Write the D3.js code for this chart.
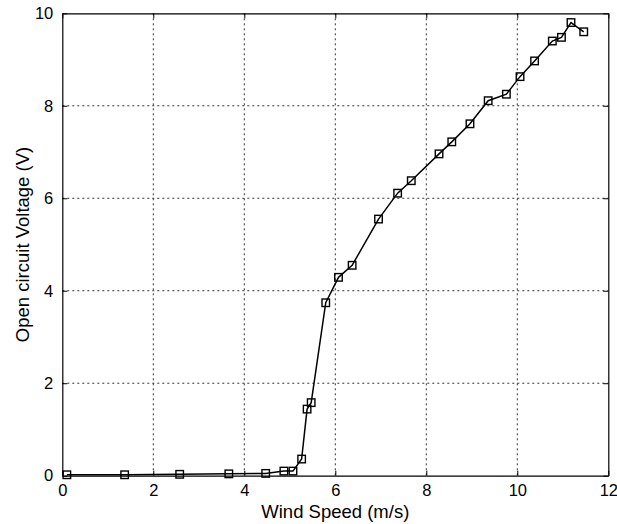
<!DOCTYPE html>
<html>
<head>
<meta charset="utf-8">
<script src="https://cdn.jsdelivr.net/npm/d3@7"></script>
<style>
  body { margin: 0; background: #fff; }
  svg { display: block; font-family: "Liberation Sans", Arial, sans-serif; }
</style>
</head>
<body>
<svg id="plotarea"></svg>
<script>
// wind speed (m/s) and open circuit voltage (V)
var windSpeed = [0.1, 1.37, 2.58, 3.66, 4.47, 4.87, 5.07, 5.26, 5.38, 5.47, 5.79, 6.07, 6.37,
                 6.95, 7.37, 7.67, 8.28, 8.56, 8.96, 9.36, 9.76, 10.06, 10.38, 10.77, 10.97, 11.18, 11.46];
var voltage = [0.02, 0.02, 0.03, 0.04, 0.05, 0.1, 0.1, 0.36, 1.44, 1.58, 3.74, 4.29, 4.55,
               5.55, 6.11, 6.38, 6.96, 7.22, 7.61, 8.11, 8.25, 8.63, 8.97, 9.40, 9.48, 9.80, 9.60];
var xTicks = [0, 2, 4, 6, 8, 10, 12];
var yTicks = [0, 2, 4, 6, 8, 10];

var W = 617, H = 524;
var margin = {top: 13.3, right: 8.7, bottom: 48.3, left: 62.3};
var width = W - margin.left - margin.right;
var height = H - margin.top - margin.bottom;

var svg = d3.select("#plotarea")
    .attr("width", W)
    .attr("height", H);
var g = svg.append("g")
    .attr("transform", "translate(" + margin.left + "," + margin.top + ")");

var x = d3.scaleLinear().domain([0, 12]).range([0, width]);
var y = d3.scaleLinear().domain([0, 10]).range([height, 0]);

// dotted grid
g.selectAll(".gx").data(xTicks.slice(1, -1)).enter().append("line")
    .attr("x1", function(d) { return x(d); }).attr("x2", function(d) { return x(d); })
    .attr("y1", 0).attr("y2", height)
    .attr("stroke", "#333").attr("stroke-width", 1).attr("stroke-dasharray", "2,3");
g.selectAll(".gy").data(yTicks.slice(1, -1)).enter().append("line")
    .attr("y1", function(d) { return y(d); }).attr("y2", function(d) { return y(d); })
    .attr("x1", 0).attr("x2", width)
    .attr("stroke", "#333").attr("stroke-width", 1).attr("stroke-dasharray", "2,3");

// axes, matlab style: inward ticks, box all round
g.append("g")
    .attr("transform", "translate(0," + height + ")")
    .call(d3.axisBottom(x).tickValues(xTicks).tickSizeInner(-5).tickSizeOuter(0).tickPadding(9));
g.append("g")
    .call(d3.axisLeft(y).tickValues(yTicks).tickSizeInner(-5).tickSizeOuter(0).tickPadding(9));
g.append("g")
    .call(d3.axisTop(x).tickValues(xTicks).tickSizeInner(-5).tickSizeOuter(0).tickFormat(""));
g.append("g")
    .attr("transform", "translate(" + width + ",0)")
    .call(d3.axisRight(y).tickValues(yTicks).tickSizeInner(-5).tickSizeOuter(0).tickFormat(""));

g.selectAll(".domain").attr("stroke", "#000").attr("stroke-width", 1.2);
g.selectAll(".tick line").attr("stroke", "#000");
g.selectAll(".tick text")
    .attr("fill", "#000")
    .style("font-size", "16.5px")
    .style("font-family", "'Liberation Sans', Arial, sans-serif");

// data line
var pts = windSpeed.map(function(d, i) { return [d, voltage[i]]; });
var line = d3.line()
    .x(function(d) { return x(d[0]); })
    .y(function(d) { return y(d[1]); });
g.append("path")
    .datum(pts)
    .attr("d", line)
    .attr("fill", "none")
    .attr("stroke", "#000")
    .attr("stroke-width", 1.5);

// square markers
var s = 7.5;
g.selectAll(".mark").data(pts).enter().append("rect")
    .attr("x", function(d) { return x(d[0]) - s / 2; })
    .attr("y", function(d) { return y(d[1]) - s / 2; })
    .attr("width", s).attr("height", s)
    .attr("fill", "none")
    .attr("stroke", "#000")
    .attr("stroke-width", 1.4);

// labels
svg.append("text")
    .attr("x", margin.left + width / 2)
    .attr("y", 517.5)
    .attr("text-anchor", "middle")
    .style("font-size", "18.5px")
    .text("Wind Speed (m/s)");
svg.append("text")
    .attr("transform", "translate(29," + (margin.top + height / 2) + ") rotate(-90)")
    .attr("text-anchor", "middle")
    .style("font-size", "18.5px")
    .text("Open circuit Voltage (V)");
</script>
</body>
</html>
